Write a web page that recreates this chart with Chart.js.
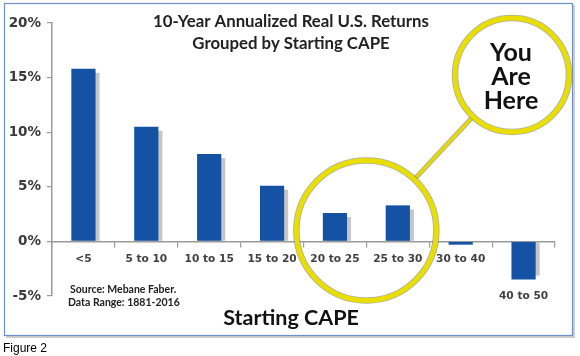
<!DOCTYPE html>
<html>
<head>
<meta charset="utf-8">
<script src="https://cdn.jsdelivr.net/npm/chart.js@4"></script>
<style>
html,body{margin:0;padding:0;background:#fff;}
#wrap{position:relative;width:580px;height:356px;}
</style>
</head>
<body>
<div id="wrap"><canvas id="c" width="580" height="356"></canvas></div>
<script>
const categories = ['<5', '5 to 10', '10 to 15', '15 to 20', '20 to 25', '25 to 30', '30 to 40', '40 to 50'];
const returns = [15.8, 10.5, 8.0, 5.1, 2.6, 3.3, -0.3, -3.5];
const yTicks = [-5, 0, 5, 10, 15, 20];
const titleLines = ['10-Year Annualized Real U.S. Returns', 'Grouped by Starting CAPE'];
const axisTitle = 'Starting CAPE';
const sourceLines = ['Source: Mebane Faber.', 'Data Range: 1881-2016'];
const calloutLines = ['You', 'Are', 'Here'];
const figureLabel = 'Figure 2';

const shadowPlugin = {
  id: 'barShadow',
  beforeDatasetsDraw(chart) {
    const ctx = chart.ctx;
    const meta = chart.getDatasetMeta(0);
    ctx.save();
    ctx.fillStyle = '#c6c6c6';
    meta.data.forEach(el => {
      const p = el.getProps(['x', 'y', 'base', 'width'], true);
      const l = p.x - p.width / 2 + 4;
      let t, b;
      if (p.y < p.base) { t = p.y + 4; b = p.base; }
      else { t = p.base; b = p.y - 4; }
      if (b > t) ctx.fillRect(l, t, p.width, b - t);
    });
    ctx.restore();
  }
};

const decorPlugin = {
  id: 'decor',
  beforeDraw(chart) {
    const ctx = chart.ctx;
    ctx.save();
    ctx.fillStyle = '#cfcfcf';
    ctx.fillRect(6, 5, 569, 333);
    ctx.fillStyle = '#ffffff';
    ctx.fillRect(4, 3, 569, 333);
    ctx.strokeStyle = '#6d90cc';
    ctx.lineWidth = 1.2;
    ctx.strokeRect(4.5, 3.5, 568, 332);
    ctx.restore();
  },
  afterDraw(chart) {
    const ctx = chart.ctx;
    const xs = chart.scales.x, ys = chart.scales.y;
    ctx.save();
    ctx.textAlign = 'center';
    ctx.textBaseline = 'middle';
    ctx.fillStyle = '#222';
    ctx.font = 'bold 16.8px Lato';
    ctx.fillText(titleLines[0], 291, 22);
    ctx.fillText(titleLines[1], 291, 44);
    ctx.font = 'bold 21.5px Lato';
    ctx.fillStyle = '#111';
    ctx.fillText(axisTitle, 291, 318);
    ctx.textAlign = 'left';
    ctx.font = 'bold 10.5px Lato';
    ctx.fillStyle = '#222';
    ctx.fillText(sourceLines[0], 70, 290);
    ctx.fillText(sourceLines[1], 68, 303);
    ctx.font = '12px "Liberation Sans"';
    ctx.fillStyle = '#000';
    ctx.textBaseline = 'alphabetic';
    ctx.fillText(figureLabel, 3, 352);

    const cx = (xs.getPixelForValue(4) + xs.getPixelForValue(5)) / 2;
    const cy = ys.getPixelForValue(1);
    const r = 70;
    const bx = 512, by = 75, br = 57;
    const dx = bx - cx, dy = by - cy, d = Math.hypot(dx, dy);
    const x1 = cx + r * dx / d, y1 = cy + r * dy / d;
    const x2 = bx - br * dx / d, y2 = by - br * dy / d;
    ctx.lineCap = 'butt';
    ctx.strokeStyle = 'rgba(120,120,120,0.6)';
    ctx.lineWidth = 5;
    ctx.beginPath(); ctx.moveTo(x1, y1); ctx.lineTo(x2, y2); ctx.stroke();
    ctx.strokeStyle = '#e4da00';
    ctx.lineWidth = 3.2;
    ctx.beginPath(); ctx.moveTo(x1, y1); ctx.lineTo(x2, y2); ctx.stroke();
    [[cx, cy, r, false], [bx, by, br, true]].forEach(([x, y, rr, fill]) => {
      if (fill) {
        ctx.fillStyle = '#fff';
        ctx.beginPath(); ctx.arc(x, y, rr, 0, Math.PI * 2); ctx.fill();
      }
      ctx.strokeStyle = 'rgba(120,120,120,0.6)';
      ctx.lineWidth = 6.5;
      ctx.beginPath(); ctx.arc(x, y, rr, 0, Math.PI * 2); ctx.stroke();
      ctx.strokeStyle = '#e8de00';
      ctx.lineWidth = 4.8;
      ctx.beginPath(); ctx.arc(x, y, rr, 0, Math.PI * 2); ctx.stroke();
    });
    ctx.fillStyle = '#111';
    ctx.textAlign = 'center';
    ctx.textBaseline = 'middle';
    ctx.font = 'bold 25px Lato';
    calloutLines.forEach((t, i) => ctx.fillText(t, bx - 1, 53 + i * 24));
    ctx.restore();
  }
};

new Chart(document.getElementById('c'), {
  type: 'bar',
  data: {
    labels: categories,
    datasets: [{
      data: returns,
      backgroundColor: '#1552a3',
      borderWidth: 0,
      barPercentage: 0.385,
      categoryPercentage: 1
    }]
  },
  options: {
    responsive: false,
    animation: false,
    devicePixelRatio: 1,
    layout: { padding: { left: 0, top: 23, right: 25, bottom: 60 } },
    plugins: { legend: { display: false }, tooltip: { enabled: false }, title: { display: false } },
    scales: {
      x: {
        position: { y: 0 },
        offset: true,
        grid: { display: true, offset: true, drawOnChartArea: false, drawTicks: true, tickLength: 5, color: '#9a9a9a', lineWidth: 1.2 },
        border: { display: true, color: '#9a9a9a', width: 1.5 },
        ticks: {
          autoSkip: false,
          maxRotation: 0,
          padding: 4,
          color: '#404040',
          font: { family: 'DejaVu Sans', weight: 'bold', size: 10.6, lineHeight: 1.74 },
          callback: (v, i) => i === categories.length - 1 ? ['', '', categories[i]] : categories[i]
        }
      },
      y: {
        min: yTicks[0],
        max: yTicks[yTicks.length - 1],
        afterFit: s => { s.width = 52; },
        afterBuildTicks: s => { s.ticks = yTicks.map(v => ({ value: v })); },
        grid: { display: true, drawOnChartArea: false, drawTicks: true, tickLength: 5, color: '#9a9a9a', lineWidth: 1.2 },
        border: { display: true, color: '#9a9a9a', width: 1.5 },
        ticks: {
          padding: 6,
          color: '#3a3a3a',
          font: { family: 'DejaVu Sans', weight: 'bold', size: 13.5 },
          callback: v => v + '%'
        }
      }
    }
  },
  plugins: [decorPlugin, shadowPlugin]
});
</script>
</body>
</html>
